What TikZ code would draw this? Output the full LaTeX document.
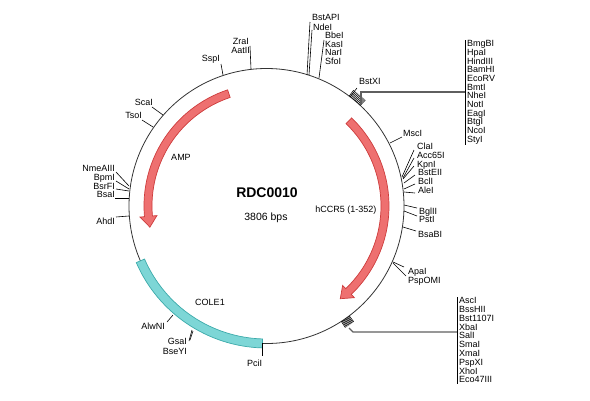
\documentclass[tikz,border=0pt]{standalone}
\usepackage{fontspec}
\setmainfont{Liberation Sans}
\definecolor{arrfill}{RGB}{238,112,112}
\definecolor{arrdraw}{RGB}{205,60,60}
\definecolor{orifill}{RGB}{125,214,214}
\definecolor{oridraw}{RGB}{60,170,170}
\definecolor{leadgray}{RGB}{95,95,95}
\begin{document}
\begin{tikzpicture}[x=1pt,y=-1pt,
  lbl/.style={font=\fontsize{9}{10}\selectfont, inner sep=0pt},
  lw/.style={lbl, anchor=mid west},
  le/.style={lbl, anchor=mid east},
  tick/.style={draw=black, line width=0.6pt},
  featarrow/.style={fill=arrfill, draw=arrdraw, line width=0.7pt},
  oriband/.style={fill=orifill, draw=oridraw, line width=0.7pt},
  lead/.style={draw=leadgray, line width=1.1pt},
  bar/.style={draw=black, line width=0.9pt}]
\useasboundingbox (0,0) rectangle (590,400);
\coordinate (C) at (266.5,206);
% backbone circle
\draw[line width=0.8pt, draw=black!80] (C) circle[radius=137.5];
% AMP arrow (counter-clockwise on page: code angles negated)
\path[featarrow] ([shift={(-108.5:122.5)}]C) arc[start angle=-108.5, end angle=-185, radius=122.5]
  -- ([shift={(-185:127)}]C) -- ([shift={(-190.3:118.5)}]C) -- ([shift={(-185:110)}]C)
  -- ([shift={(-185:114.5)}]C) arc[start angle=-185, end angle=-108.5, radius=114.5] -- cycle;
% hCCR5 arrow (clockwise on page)
\path[featarrow] ([shift={(-46:122.5)}]C) arc[start angle=-46, end angle=46.2, radius=122.5]
  -- ([shift={(46.2:127)}]C) -- ([shift={(51.5:118.5)}]C) -- ([shift={(46.2:110)}]C)
  -- ([shift={(46.2:114.5)}]C) arc[start angle=46.2, end angle=-46, radius=114.5] -- cycle;
% COLE1 band
\path[oriband] ([shift={(-203.5:142)}]C) arc[start angle=-203.5, end angle=-268.3, radius=142]
  -- ([shift={(-268.3:133)}]C) arc[start angle=-268.3, end angle=-203.5, radius=133] -- cycle;
% centre texts
\node[font=\fontsize{14}{16}\selectfont\bfseries, inner sep=0pt] (name) at (267,193) {RDC0010};
\node[font=\fontsize{10.5}{12}\selectfont, inner sep=0pt] (size) at (266,218) {3806 bps};
\node[lbl] (hccr) at (346,210) {hCCR5 (1-352)};
\node[lbl] (amp) at (181,157) {AMP};
\node[lbl] (cole) at (210,302) {COLE1};
% hatch clusters
\foreach \a in {47,47.55,...,53.1} \draw[line width=0.55pt] ([shift={(-\a:137.5)}]C) -- ([shift={(-\a:145)}]C);
\foreach \a in {53,53.45,...,57.1} \draw[line width=0.55pt] ([shift={(\a:137.5)}]C) -- ([shift={(\a:145)}]C);
% upper MCS leader and list
\coordinate (u0) at (361,105);
\coordinate (u1) at (361,92);
\coordinate (u2) at (465,92);
\draw[lead] (u0) -- (u1) -- (u2);
\draw[bar] (465,40) -- (465,145);
\foreach \t [count=\i from 0] in {BmgBI,HpaI,HindIII,BamHI,EcoRV,BmtI,NheI,NotI,EagI,BtgI,NcoI,StyI}
  \node[lw] (up\i) at (467,44+8.7*\i) {\t};
% lower MCS leader and list
\coordinate (w0) at (349,328);
\coordinate (w1) at (353,332);
\coordinate (w2) at (457,332);
\draw[lead] (w0) -- (w1) -- (w2);
\draw[bar] (457,297) -- (457,384);
\foreach \t [count=\i from 0] in {AscI,BssHII,Bst1107I,XbaI,SalI,SmaI,XmaI,PspXI,XhoI,Eco47III}
  \node[lw] (lo\i) at (459,301+8.8*\i) {\t};
% top sites
\node[le] (sspi) at (220,59) {SspI};
\draw[tick] (223,75) -- (221,64);
\node[le] (zrai) at (249,42) {ZraI};
\node[le] (aatii) at (250,50.5) {AatII};
\draw[tick] (251,69) -- (250,46);
\node[lw] (bstapi) at (312,18) {BstAPI};
\node[lw] (ndei) at (313,28) {NdeI};
\draw[tick] (307,75) -- (310,22);
\draw[tick] (309,75) -- (312,30);
\node[lw] (bbei) at (325,36) {BbeI};
\node[lw] (kasi) at (325,44.7) {KasI};
\node[lw] (nari) at (325,53.3) {NarI};
\node[lw] (sfoi) at (325,62) {SfoI};
\draw[tick] (319,78) -- (324,40);
\node[lw] (bstxi) at (359,82) {BstXI};
\draw[tick] (350,97) -- (357,88);
% right sites
\node[lw] (msci) at (403,134) {MscI};
\draw[tick] (390,143) -- (402,137);
\node[lw] (clai) at (417,147) {ClaI};
\node[lw] (acc) at (417,156) {Acc65I};
\node[lw] (kpni) at (417,164.5) {KpnI};
\node[lw] (bsteii) at (418,173) {BstEII};
\node[lw] (bcli) at (418,182) {BclI};
\node[lw] (alei) at (418,191) {AleI};
\draw[tick] (402,177) -- (414,150);
\draw[tick] (403,178) -- (414,158);
\draw[tick] (403,179) -- (414,166);
\draw[tick] (404,183) -- (415,175);
\draw[tick] (404,189) -- (415,184);
\draw[tick] (404,192) -- (415,193);
\node[lw] (bglii) at (419,212) {BglII};
\node[lw] (psti) at (419,220) {PstI};
\draw[tick] (404,205) -- (417,208);
\draw[tick] (404,211) -- (417,216);
\node[lw] (bsabi) at (418,235) {BsaBI};
\draw[tick] (403,227) -- (416,231);
\node[lw] (apai) at (408,272) {ApaI};
\node[lw] (pspomi) at (408,281) {PspOMI};
\draw[tick] (393,262) -- (404,267);
\draw[tick] (393,263) -- (406,276);
% left sites
\node[le] (scai) at (153,103) {ScaI};
\draw[tick] (163,115) -- (152,107);
\node[le] (tsoi) at (142,116) {TsoI};
\draw[tick] (153,127) -- (142,120);
\node[le] (nme) at (115,169) {NmeAIII};
\node[le] (bpmi) at (115,178) {BpmI};
\node[le] (bsrfi) at (115,187) {BsrFI};
\node[le] (bsai) at (115,195) {BsaI};
\draw[tick] (129,186) -- (116,172);
\draw[tick] (129,189) -- (116,181);
\draw[tick] (129,191) -- (116,189);
\draw[tick] (129,198) -- (115,198);
\node[le] (ahdi) at (115,222) {AhdI};
\draw[tick] (129,216) -- (116,217);
% bottom sites
\node[le] (alwni) at (165,327) {AlwNI};
\draw[tick] (173,315) -- (167,322);
\node[le] (gsai) at (187,342) {GsaI};
\node[le] (bseyi) at (187,352) {BseYI};
\draw[tick] (192,330) -- (189,341);
\draw[tick] (193,331) -- (190,340);
\node[lbl] (pcii) at (254.5,363) {PciI};
\draw[tick] (262,343) -- (262,356);
\end{tikzpicture}
\end{document}
